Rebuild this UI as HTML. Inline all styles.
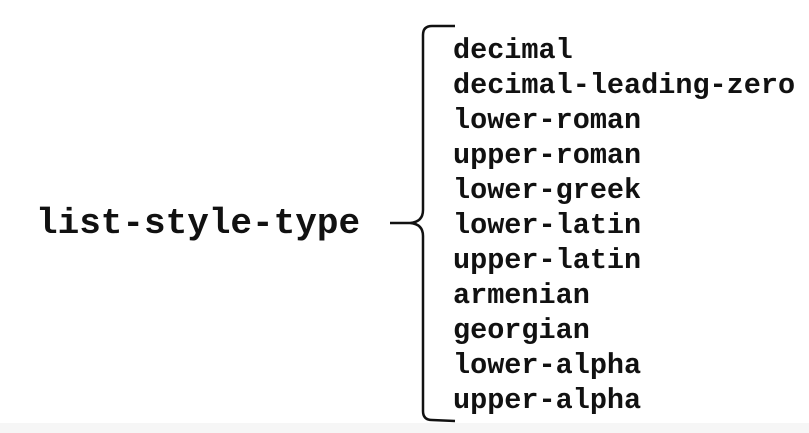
<!DOCTYPE html>
<html><head><meta charset="utf-8"><style>
html,body{margin:0;padding:0;}
body{width:809px;height:433px;background:#fff;position:relative;overflow:hidden;font-family:"Liberation Mono",monospace;font-weight:bold;color:#111;}
.strip{position:absolute;left:0;top:423px;width:809px;height:10px;background:#f6f6f6;}
.lbl{position:absolute;left:36px;top:202px;font-size:36px;line-height:44px;white-space:pre;}
.list{position:absolute;left:453px;top:33px;font-size:28.5px;line-height:35px;white-space:pre;}
svg{position:absolute;left:0;top:0;}
</style></head><body>
<div class="strip"></div>
<svg width="809" height="433"><path d="M455 26 L432 26 Q423 26 423 35 L423 210 Q423 222 410 223 L390 223 L410 223 Q423 224 423 236 L423 411 Q423 420 432 420 L455 421" fill="none" stroke="#111" stroke-width="2.5"/></svg>
<div class="lbl">list-style-type</div>
<div class="list">decimal
decimal-leading-zero
lower-roman
upper-roman
lower-greek
lower-latin
upper-latin
armenian
georgian
lower-alpha
upper-alpha</div>
</body></html>
